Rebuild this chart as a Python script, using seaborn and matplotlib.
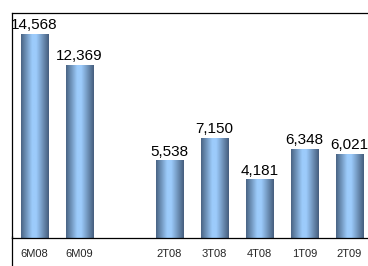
import numpy as np
import pandas as pd
import matplotlib
matplotlib.use("Agg")
import matplotlib.pyplot as plt
import seaborn as sns
from matplotlib.colors import LinearSegmentedColormap
from matplotlib.lines import Line2D

# chart data
periods = ["6M08", "6M09", "", "2T08", "3T08", "4T08", "1T09", "2T09"]
bar_periods = ["6M08", "6M09", "2T08", "3T08", "4T08", "1T09", "2T09"]
values = [14568, 12369, 5538, 7150, 4181, 6348, 6021]

df = pd.DataFrame({"period": bar_periods, "value": values})

sns.set_style("white")
plt.rcParams["font.family"] = ["Liberation Sans", "DejaVu Sans"]

fig = plt.figure(figsize=(3.68, 2.66), dpi=100)
ax = fig.add_axes([12 / 368, 28 / 266, 360 / 368, 225 / 266])

sns.barplot(data=df, x="period", y="value", order=periods, color="#7fa8d8",
            width=0.62, ax=ax, errorbar=None)

# horizontal gradient inside each bar
grad = LinearSegmentedColormap.from_list(
    "bar", [(0, "#4a6585"), (0.4, "#9ccbfb"), (0.55, "#9ccbfb"), (1, "#465f7e")])
ramp = np.linspace(0, 1, 64).reshape(1, -1)
for p in ax.patches:
    x0, y0 = p.get_x(), p.get_y()
    w, h = p.get_width(), p.get_height()
    if not np.isfinite(h) or h == 0:
        continue
    im = ax.imshow(ramp, cmap=grad, aspect="auto", extent=[x0, x0 + w, y0, y0 + h],
                   zorder=p.get_zorder() + 0.1, interpolation="bilinear")
    im.set_clip_path(p)
    ax.text(x0 + w / 2, h + 120, f"{int(h):,}", ha="center", va="bottom",
            fontsize=11, color="#000000", clip_on=False)

ax.set_xlim(-0.5, len(periods) - 0.5)
ax.set_ylim(0, 16070)
ax.set_xlabel("")
ax.set_ylabel("")
ax.set_yticks([])

ax.set_xticks(range(len(periods)))
ax.set_xticklabels(periods, fontsize=8)
ax.tick_params(axis="x", which="major", length=0, pad=8)
ax.set_xticks(np.arange(0.5, len(periods) - 0.5, 1), minor=True)
ax.tick_params(axis="x", which="minor", length=3, width=0.8, direction="out", color="#000000")

for side in ["left", "top", "bottom"]:
    ax.spines[side].set_visible(True)
    ax.spines[side].set_color("#000000")
    ax.spines[side].set_linewidth(0.9)
ax.spines["right"].set_visible(False)

# outer chart border continues below the axis
fig.add_artist(Line2D([12 / 368, 12 / 368], [0, 30 / 266], transform=fig.transFigure,
                      color="#000000", linewidth=0.9))

fig.savefig("out.png", dpi=100)
